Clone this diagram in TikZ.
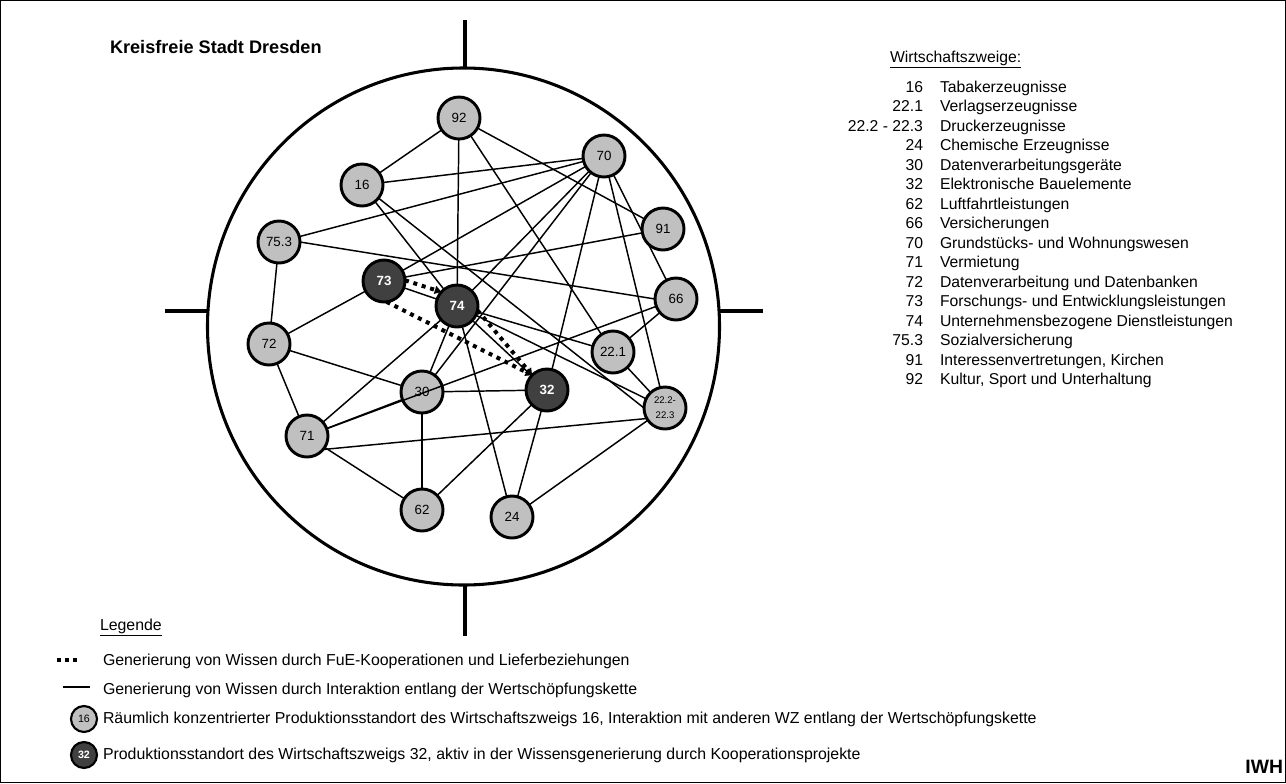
\documentclass[tikz,border=0pt]{standalone}
\usepackage{fontspec}
\setmainfont{Liberation Sans}
\usetikzlibrary{arrows.meta}
\definecolor{wzlight}{RGB}{192,192,192}
\definecolor{wzdark}{RGB}{64,64,64}
\pgfdeclarelayer{bg}
\pgfsetlayers{bg,main}
\begin{document}
\begin{tikzpicture}[x=0.75pt,y=-0.75pt,
  every node/.style={inner sep=0pt,outer sep=0pt},
  wz/.style={circle,draw=black,line width=2.2pt,fill=wzlight,minimum size=31.5pt,font=\fontsize{10}{11}\selectfont},
  wzd/.style={wz,fill=wzdark,text=white,font=\fontsize{10}{11}\selectfont\bfseries},
  lwz/.style={wz,line width=1.6pt,minimum size=19.5pt,font=\fontsize{8}{9}\selectfont},
  lwzd/.style={lwz,fill=wzdark,text=white,font=\fontsize{8}{9}\selectfont\bfseries},
  edge/.style={line width=1.1pt},
  coop/.style={line width=3pt,dash pattern=on 3pt off 3.6pt,-{Triangle[length=5pt,width=6pt]}},
  ring/.style={line width=2.3pt},
  listnum/.style={anchor=base east,font=\fontsize{11.8}{13}\selectfont},
  listtxt/.style={anchor=base west,font=\fontsize{11.8}{13}\selectfont},
  legtxt/.style={anchor=base west,font=\fontsize{11.9}{13}\selectfont},
]
\useasboundingbox (0,0) rectangle (1286,783);
\draw[line width=0.8pt] (0.5,0.5) rectangle (1285.5,782.5);

% ring and ticks
\draw[ring] (463.5,326.5) ellipse [x radius=256, y radius=258.5];
\coordinate (tt1) at (465,20);  \coordinate (tt2) at (465,68);
\coordinate (tb1) at (465,585); \coordinate (tb2) at (465,636);
\coordinate (tl1) at (165,311); \coordinate (tl2) at (208,311);
\coordinate (tr1) at (719,311); \coordinate (tr2) at (763,311);
\draw[ring] (tt1) -- (tt2);
\draw[ring] (tb1) -- (tb2);
\draw[ring] (tl1) -- (tl2);
\draw[ring] (tr1) -- (tr2);

% title
\node[anchor=base west,font=\fontsize{13.6}{15}\selectfont\bfseries] (title) at (110,53) {Kreisfreie Stadt Dresden};

% nodes
\node[wz] (n92) at (459,118) {92};
\node[wz] (n70) at (604,156) {70};
\node[wz] (n16) at (362,185) {16};
\node[wz] (n91) at (663,229) {91};
\node[wz] (n753) at (279,242) {75.3};
\node[wzd] (n73) at (384,281) {73};
\node[wzd] (n74) at (457,306) {74};
\node[wz] (n66) at (676,299) {66};
\node[wz] (n72) at (269,344) {72};
\node[wz] (n221) at (613,352) {22.1};
\node[wz] (n30) at (422,392) {30};
\node[wzd] (n32) at (547,390) {32};
\node[wz,align=center,font=\fontsize{7.2}{11}\selectfont] (n222) at (665,408) {22.2-\\22.3};
\node[wz] (n71) at (307,436) {71};
\node[wz] (n62) at (422,510) {62};
\node[wz] (n24) at (512,517) {24};

% edges (behind nodes)
\begin{pgfonlayer}{bg}
\draw[edge] (n92) -- (n16);
\draw[edge] (n92) -- (n74);
\draw[edge] (n92) -- (n91);
\draw[edge] (n92) -- (n221);
\draw[edge] (n70) -- (n16);
\draw[edge] (n70) -- (n753);
\draw[edge] (n70) -- (n73);
\draw[edge] (n70) -- (n74);
\draw[edge] (n70) -- (n30);
\draw[edge] (n70) -- (n32);
\draw[edge] (n70) -- (n222);
\draw[edge] (n70) -- (n66);
\draw[edge] (n16) -- (n74);
\draw[edge] (n16) -- (n222.west);
\draw[edge] (n753.east) -- (n66.west);
\draw[edge] (n753) -- (n72);
\draw[edge] (n73) -- (n91);
\draw[edge] (n73) -- (n72);
\draw[edge] (n73) -- (n74);
\draw[edge] (n74) -- (n71);
\draw[edge] (n74) -- (n30);
\draw[edge] (n74) -- (n24);
\draw[edge] (n74) -- (n221);
\draw[edge] (n74) -- (n222);
\draw[edge] (n74) -- (n32);
\draw[edge] (n72) -- (n30);
\draw[edge] (n72) -- (n71);
\draw[edge] (n71) -- (n30);
\draw[edge] (n71.-40) -- (n222.-150);
\draw[edge] (n71) -- (n62);
\draw[edge] (n30) -- (n32);
\draw[edge] (n30) -- (n62);
\draw[edge] (n62) -- (n32);
\draw[edge] (n32) -- (n24);
\draw[edge] (n24) -- (n222);
\draw[edge] (n221) -- (n66);
\draw[edge] (n221) -- (n222);
\end{pgfonlayer}
% line crossing over 30
\draw[edge] (n71) -- (n66);

% cooperation links
\draw[coop] (n73.2) -- (n74.138);
\draw[coop] (n73.-83) -- (n32.135);
\draw[coop] (n74.-12) -- (n32.135);

% list of branches
\node[anchor=base west,font=\fontsize{11.8}{13}\selectfont] (head) at (890,62) {\underline{Wirtschaftszweige:}};
\foreach \a/\b [count=\i from 0] in {
  16/{Tabakerzeugnisse},
  22.1/{Verlagserzeugnisse},
  22.2 - 22.3/{Druckerzeugnisse},
  24/{Chemische Erzeugnisse},
  30/{Datenverarbeitungsgeräte},
  32/{Elektronische Bauelemente},
  62/{Luftfahrtleistungen},
  66/{Versicherungen},
  70/{Grundstücks- und Wohnungswesen},
  71/{Vermietung},
  72/{Datenverarbeitung und Datenbanken},
  73/{Forschungs- und Entwicklungsleistungen},
  74/{Unternehmensbezogene Dienstleistungen},
  75.3/{Sozialversicherung},
  91/{Interessenvertretungen, Kirchen},
  92/{Kultur, Sport und Unterhaltung}}{
  \node[listnum] (num\i) at (923,{92+19.5*\i}) {\a};
  \node[listtxt] (txt\i) at (940,{92+19.5*\i}) {\b};
}

% legend
\node[legtxt] (leghead) at (100,630) {\underline{Legende}};
\coordinate (ld1) at (57,660); \coordinate (ld2) at (77,660);
\draw[line width=3pt,dash pattern=on 3pt off 3pt] (ld1) -- (ld2);
\node[legtxt] (leg1) at (103,665) {Generierung von Wissen durch FuE-Kooperationen und Lieferbeziehungen};
\coordinate (ls1) at (63,687); \coordinate (ls2) at (90,687);
\draw[edge] (ls1) -- (ls2);
\node[legtxt] (leg2) at (103,694) {Generierung von Wissen durch Interaktion entlang der Wertschöpfungskette};
\node[lwz] (lc16) at (84,719) {16};
\node[legtxt] (leg3) at (103,723) {Räumlich konzentrierter Produktionsstandort des Wirtschaftszweigs 16, Interaktion mit anderen WZ entlang der Wertschöpfungskette};
\node[lwzd] (lc32) at (84,755) {32};
\node[legtxt] (leg4) at (103,759) {Produktionsstandort des Wirtschaftszweigs 32, aktiv in der Wissensgenerierung durch Kooperationsprojekte};
\node[anchor=base east,font=\fontsize{14.5}{16}\selectfont\bfseries] (iwh) at (1283,773) {IWH};
\end{tikzpicture}
\end{document}
